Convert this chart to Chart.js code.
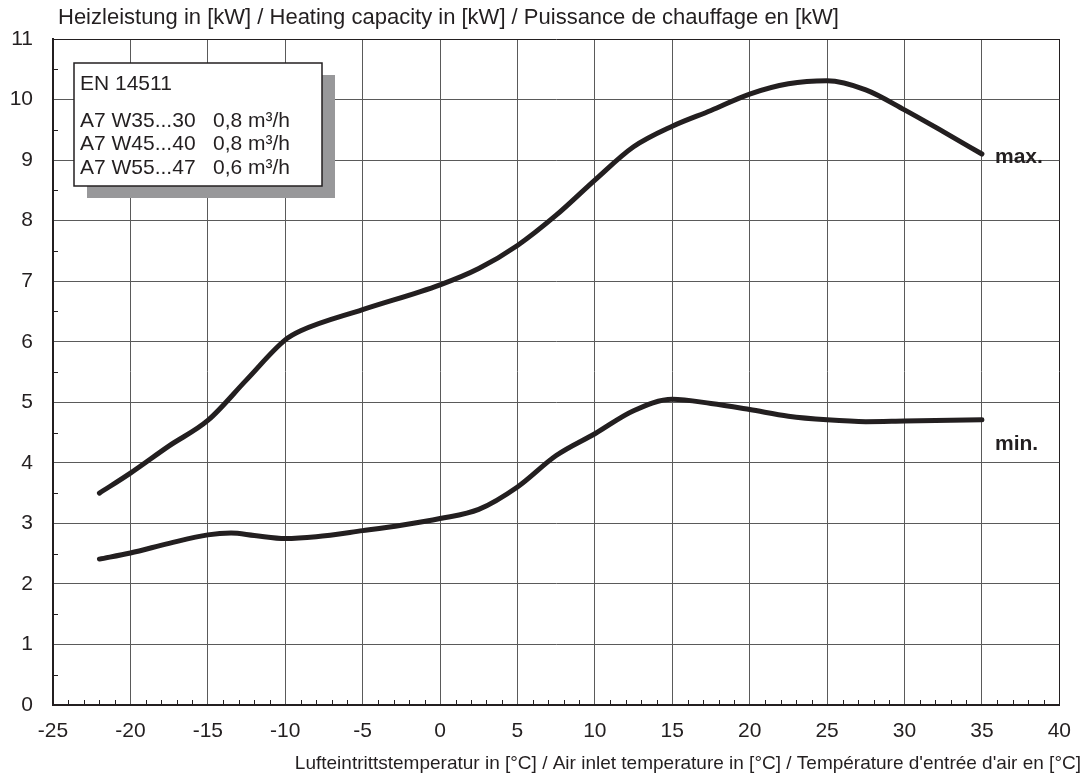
<!DOCTYPE html>
<html>
<head>
<meta charset="utf-8">
<script src="https://cdn.jsdelivr.net/npm/chart.js@4.4.1/dist/chart.umd.min.js"></script>
<style>
  html, body { margin: 0; padding: 0; background: #fff; }
  #wrap { width: 1085px; height: 784px; }
</style>
</head>
<body>
<div id="wrap"><canvas id="c" width="1085" height="784"></canvas></div>
<script>
// ---- Data ----
const maxTemps  = [-22, -20, -17.5, -15, -12.5, -10, -9, -5, 0, 2.5, 5, 7.5, 10, 12.5, 15, 17.5, 20, 22.5, 25, 27.5, 30, 32.5, 35];
const maxPower  = [3.5, 3.83, 4.28, 4.70, 5.37, 6.03, 6.18, 6.53, 6.94, 7.21, 7.59, 8.09, 8.67, 9.22, 9.56, 9.82, 10.09, 10.26, 10.31, 10.16, 9.83, 9.47, 9.10];
const minTemps  = [-22, -20, -17.5, -15, -13.5, -12, -10, -8, -5, -2.5, 0, 2.5, 5, 7.5, 10, 12.5, 15, 17.5, 20, 22.5, 25, 27.5, 30, 35];
const minPower  = [2.41, 2.51, 2.67, 2.81, 2.84, 2.80, 2.75, 2.78, 2.88, 2.97, 3.08, 3.23, 3.60, 4.12, 4.48, 4.86, 5.05, 4.98, 4.88, 4.77, 4.71, 4.68, 4.69, 4.71];
const xTickLabels = [-25, -20, -15, -10, -5, 0, 5, 10, 15, 20, 25, 30, 35, 40];
const yTickLabels = [0, 1, 2, 3, 4, 5, 6, 7, 8, 9, 10, 11];
const seriesNames = ['max.', 'min.'];
const titleText = 'Heizleistung in [kW] / Heating capacity in [kW] / Puissance de chauffage en [kW]';
const xTitleText = 'Lufteintrittstemperatur in [°C] / Air inlet temperature in [°C] / Température d\'entrée d\'air en [°C]';
const legendTitle = 'EN 14511';
const legendRows = [['A7 W35...30', '0,8 m³/h'], ['A7 W45...40', '0,8 m³/h'], ['A7 W55...47', '0,6 m³/h']];

const FONT = '"Liberation Sans", Arial, Helvetica, sans-serif';
const TXT = '#231f20';
const LINE = '#231f20';

function pts(xs, ys) { return xs.map((x, i) => ({ x: x, y: ys[i] })); }

const overlay = {
  id: 'overlay',
  afterDatasetsDraw(chart) {
    const ctx = chart.ctx;
    const xs = chart.scales.x, ys = chart.scales.y;
    const area = chart.chartArea;
    ctx.save();
    // minor ticks
    ctx.strokeStyle = '#231f20';
    ctx.lineWidth = 1;
    ctx.beginPath();
    for (let v = xTickLabels[0]; v <= xTickLabels[xTickLabels.length - 1]; v += 1) {
      if (v % 5 === 0) continue;
      const px = Math.round(xs.getPixelForValue(v)) + 0.5;
      ctx.moveTo(px, area.bottom);
      ctx.lineTo(px, area.bottom - 5);
    }
    for (let v = 0.5; v < yTickLabels[yTickLabels.length - 1]; v += 1) {
      const py = Math.round(ys.getPixelForValue(v)) + 0.5;
      ctx.moveTo(area.left, py);
      ctx.lineTo(area.left + 5, py);
    }
    ctx.stroke();

    // legend box with shadow
    const bx = 74, by = 63, bw = 248, bh = 123;
    ctx.fillStyle = '#98989a';
    ctx.fillRect(bx + 13, by + 12, bw, bh);
    ctx.fillStyle = '#fff';
    ctx.fillRect(bx, by, bw, bh);
    ctx.strokeStyle = '#231f20';
    ctx.lineWidth = 1.5;
    ctx.strokeRect(bx, by, bw, bh);

    ctx.fillStyle = TXT;
    ctx.font = '21px ' + FONT;
    ctx.textBaseline = 'middle';
    ctx.textAlign = 'left';
    ctx.fillText(legendTitle, 80, 84);
    legendRows.forEach((r, i) => {
      const y = 121 + i * 23.5;
      ctx.fillText(r[0], 80, y);
      ctx.fillText(r[1], 213, y);
    });

    // series labels
    ctx.font = 'bold 21px ' + FONT;
    ctx.fillText(seriesNames[0], 995, 157);
    ctx.fillText(seriesNames[1], 995, 444);

    // titles
    ctx.font = '22px ' + FONT;
    ctx.fillText(titleText, 58, 18);
    ctx.font = '19px ' + FONT;
    ctx.textAlign = 'right';
    ctx.fillText(xTitleText, 1081, 764);
    ctx.restore();
  }
};

new Chart(document.getElementById('c'), {
  type: 'line',
  data: {
    datasets: [
      { label: seriesNames[0], data: pts(maxTemps, maxPower), borderColor: LINE, borderWidth: 5, pointRadius: 0, tension: 0.4, cubicInterpolationMode: 'monotone', borderCapStyle: 'round', borderJoinStyle: 'round', fill: false },
      { label: seriesNames[1], data: pts(minTemps, minPower), borderColor: LINE, borderWidth: 5, pointRadius: 0, tension: 0.4, cubicInterpolationMode: 'monotone', borderCapStyle: 'round', borderJoinStyle: 'round', fill: false }
    ]
  },
  options: {
    responsive: false,
    animation: false,
    devicePixelRatio: 1,
    layout: { padding: { left: 0, top: 39, right: 24, bottom: 0 } },
    plugins: { legend: { display: false }, tooltip: { enabled: false }, title: { display: false } },
    scales: {
      x: {
        type: 'linear',
        min: xTickLabels[0], max: xTickLabels[xTickLabels.length - 1],
        afterBuildTicks: s => { s.ticks = xTickLabels.map(v => ({ value: v })); },
        afterFit: s => { s.height = 79; },
        ticks: { color: TXT, font: { family: FONT, size: 21 }, padding: 14, maxRotation: 0, autoSkip: false },
        grid: { color: c => (c.tick && c.tick.value === 40 ? '#231f20' : '#5a5a5a'), lineWidth: 1, drawTicks: false },
        border: { color: '#231f20', width: 2 }
      },
      y: {
        type: 'linear',
        min: yTickLabels[0], max: yTickLabels[yTickLabels.length - 1],
        afterBuildTicks: s => { s.ticks = yTickLabels.map(v => ({ value: v })); },
        afterFit: s => { s.width = 53; },
        ticks: { color: TXT, font: { family: FONT, size: 21 }, padding: 20 },
        grid: { color: c => (c.tick && c.tick.value === 11 ? '#231f20' : '#5a5a5a'), lineWidth: 1, drawTicks: false },
        border: { color: '#231f20', width: 2 }
      }
    }
  },
  plugins: [overlay]
});
</script>
</body>
</html>
